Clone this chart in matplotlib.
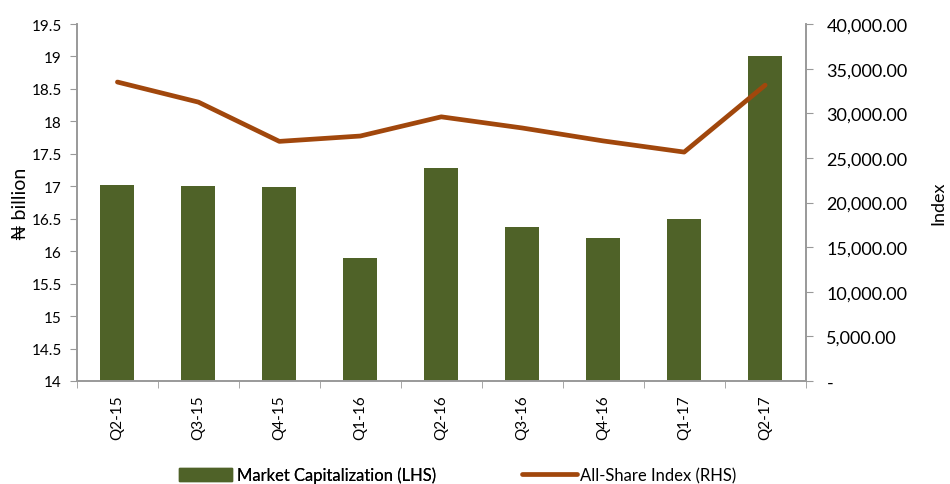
import matplotlib
matplotlib.use("Agg")
import matplotlib.pyplot as plt
from matplotlib.ticker import FuncFormatter, MultipleLocator
from matplotlib.patches import Patch
from matplotlib.lines import Line2D
import numpy as np

plt.rcParams['font.family'] = ['Lato', 'DejaVu Sans']

quarters = ['Q2-15', 'Q3-15', 'Q4-15', 'Q1-16', 'Q2-16', 'Q3-16', 'Q4-16', 'Q1-17', 'Q2-17']
market_cap = [17.02, 17.01, 16.99, 15.89, 17.28, 16.38, 16.20, 16.50, 19.00]
asi = [33500, 31250, 26850, 27450, 29600, 28350, 26900, 25650, 33150]

bar_color = '#4F6228'
line_color = '#A1470C'
axis_gray = '#999999'

fig = plt.figure(figsize=(9.5, 4.85), dpi=100)
ax = fig.add_axes([0.081, 0.2124, 0.767, 0.736])
ax2 = ax.twinx()

x = np.arange(len(quarters))
ax.bar(x, market_cap, width=0.42, color=bar_color, zorder=2)
ax.set_ylim(14, 19.5)
ax.set_xlim(-0.5, len(quarters) - 0.5)
ax.yaxis.set_major_locator(MultipleLocator(0.5))
ax.yaxis.set_major_formatter(FuncFormatter(lambda v, p: ('%g' % v)))

ax2.plot(x, asi, color=line_color, lw=3.4, solid_capstyle='round', zorder=3)
ax2.set_ylim(0, 40000)
ax2.yaxis.set_major_locator(MultipleLocator(5000))
ax2.yaxis.set_major_formatter(FuncFormatter(lambda v, p: '-' if v == 0 else '{:,.2f}'.format(v)))

# category labels, ticks between categories
ax.set_xticks(x)
ax.set_xticklabels(quarters, rotation=90, fontsize=11)
ax.tick_params(axis='x', length=0, pad=10)
ax.set_xticks(np.arange(-0.5, len(quarters)), minor=True)
ax.tick_params(axis='x', which='minor', length=5, color=axis_gray)

ax.tick_params(axis='y', labelsize=11, length=5, color=axis_gray, pad=6)
ax2.tick_params(axis='y', labelsize=13, length=5, color=axis_gray, pad=10)

for a in (ax, ax2):
    a.spines['top'].set_visible(False)
    for s in ('left', 'right', 'bottom'):
        a.spines[s].set_color(axis_gray)
        a.spines[s].set_linewidth(1.2)
ax.set_zorder(ax2.get_zorder() - 1)
ax2.patch.set_visible(False)

ax.set_ylabel('₦ billion', fontsize=14, labelpad=2)
ax2.set_ylabel('Index', fontsize=13, labelpad=16)

# two legend entries placed separately, like the spreadsheet layout
leg_y = 1 - 476 / 485
leg1 = fig.legend(handles=[Patch(color=bar_color, label='Market Capitalization (LHS)')],
                  loc='center left', bbox_to_anchor=(179 / 950, leg_y), frameon=False,
                  fontsize=12, handlelength=3.2, handleheight=0.9, handletextpad=0.3,
                  borderpad=0, borderaxespad=0)
leg2 = fig.legend(handles=[Line2D([], [], color=line_color, lw=3.4, solid_capstyle='round',
                                  label='All-Share Index (RHS)')],
                  loc='center left', bbox_to_anchor=(522 / 950, leg_y), frameon=False,
                  fontsize=12, handlelength=3.3, handletextpad=0.2,
                  borderpad=0, borderaxespad=0)
fig.add_artist(leg1)

fig.savefig('out.png', dpi=100)
